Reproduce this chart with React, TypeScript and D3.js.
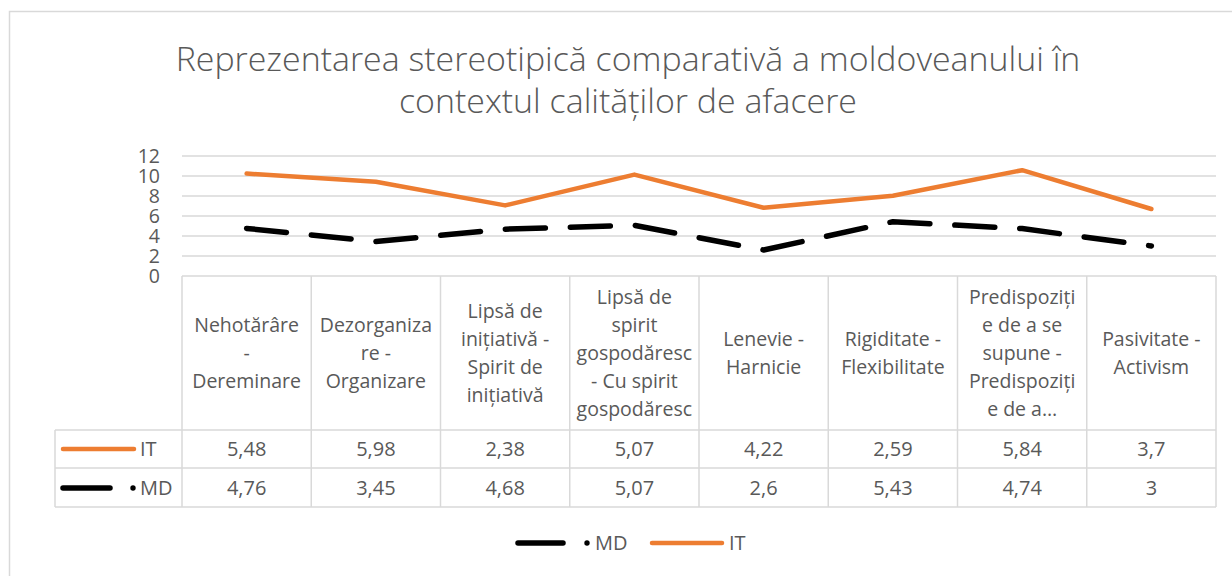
import React from 'react';
import * as d3 from 'd3';

// header labels, already broken into lines like the table in the picture
const categories = [
  ['Nehotărâre', '-', 'Dereminare'],
  ['Dezorganiza', 're -', 'Organizare'],
  ['Lipsă de', 'inițiativă -', 'Spirit de', 'inițiativă'],
  ['Lipsă de', 'spirit', 'gospodăresc', '- Cu spirit', 'gospodăresc'],
  ['Lenevie -', 'Harnicie'],
  ['Rigiditate -', 'Flexibilitate'],
  ['Predispoziți', 'e de a se', 'supune -', 'Predispoziți', 'e de a…'],
  ['Pasivitate -', 'Activism'],
];
const itValues = [5.48, 5.98, 2.38, 5.07, 4.22, 2.59, 5.84, 3.7];
const mdValues = [4.76, 3.45, 4.68, 5.07, 2.6, 5.43, 4.74, 3];
const yTicks = [0, 2, 4, 6, 8, 10, 12];
const titleLines = [
  'Reprezentarea stereotipică comparativă a moldoveanului în',
  'contextul calităților de afacere',
];

const W = 1232;
const H = 576;
const grey = '#595959';
const gridC = '#d9d9d9';
const orange = '#ED7D31';
const font = "'Open Sans', sans-serif";

const fmt = (v: number) => String(v).replace('.', ',');

export default function App() {
  const left = 182;
  const right = 1216;
  const x = d3.scaleBand<number>().domain(d3.range(categories.length)).range([left, right]);
  const y = d3.scaleLinear().domain([0, 12]).range([276, 156]);

  // stacked line: IT sits on top of MD
  const mdPts = mdValues.map((v, i) => [x(i)! + x.bandwidth() / 2, y(v)] as [number, number]);
  const itPts = itValues.map((v, i) => [x(i)! + x.bandwidth() / 2, y(v + mdValues[i])] as [number, number]);
  const line = d3.line();

  const tableTop = y(0);
  const rowIT = 430;
  const rowMD = 468;
  const tableBottom = 507;
  const keyLeft = 55;
  const cx = (i: number) => x(i)! + x.bandwidth() / 2;
  const headMid = (tableTop + rowIT) / 2;
  const lh = 28;

  return (
    <div style={{ position: 'absolute', left: 0, top: 0 }}>
      <svg width={W} height={H} style={{ display: 'block', background: '#fff' }} fontFamily={font}>
        <rect x={9.5} y={11.5} width={1300} height={700} fill="#fff" stroke={gridC} strokeWidth={1.5} />

        {titleLines.map((t, i) => (
          <text key={i} x={628} y={71 + i * 42} textAnchor="middle" fontSize={33.9} fontWeight={300} fill={grey}>
            {t}
          </text>
        ))}

        {/* gridlines */}
        {yTicks.filter(t => t > 0).map(t => (
          <line key={t} x1={left} x2={right} y1={y(t)} y2={y(t)} stroke={gridC} strokeWidth={1.5} />
        ))}
        {yTicks.map(t => (
          <text key={t} x={160} y={y(t)} dy="0.36em" textAnchor="end" fontSize={19.5} fill={grey}>
            {t}
          </text>
        ))}

        {/* table */}
        <g stroke={gridC} strokeWidth={1.5}>
          <line x1={left} x2={right} y1={tableTop} y2={tableTop} />
          {[rowIT, rowMD, tableBottom].map(r => (
            <line key={r} x1={keyLeft} x2={right} y1={r} y2={r} />
          ))}
          <line x1={keyLeft} x2={keyLeft} y1={rowIT} y2={tableBottom} />
          {d3.range(categories.length + 1).map(i => {
            const xx = i < categories.length ? x(i)! : right;
            return <line key={i} x1={xx} x2={xx} y1={tableTop} y2={tableBottom} />;
          })}
        </g>
        {categories.map((lines, i) => (
          <text key={i} textAnchor="middle" fontSize={19.5} fill={grey}>
            {lines.map((l, j) => (
              <tspan key={j} x={cx(i)} y={headMid + (j - (lines.length - 1) / 2) * lh} dy="0.36em">
                {l}
              </tspan>
            ))}
          </text>
        ))}
        {itValues.map((v, i) => (
          <text key={'it' + i} x={cx(i)} y={(rowIT + rowMD) / 2} dy="0.36em" textAnchor="middle" fontSize={20} fill={grey}>
            {fmt(v)}
          </text>
        ))}
        {mdValues.map((v, i) => (
          <text key={'md' + i} x={cx(i)} y={(rowMD + tableBottom) / 2} dy="0.36em" textAnchor="middle" fontSize={20} fill={grey}>
            {fmt(v)}
          </text>
        ))}

        {/* table legend keys */}
        <line x1={63} x2={134} y1={449} y2={449} stroke={orange} strokeWidth={4.5} strokeLinecap="round" />
        <text x={140} y={449} dy="0.36em" fontSize={20} fill={grey}>IT</text>
        <line x1={63} x2={110} y1={488} y2={488} stroke="#000" strokeWidth={5.5} strokeLinecap="round" />
        <circle cx={133} cy={488} r={2.7} fill="#000" />
        <text x={140} y={488} dy="0.36em" fontSize={20} fill={grey}>MD</text>

        {/* series */}
        <path d={line(itPts)!} fill="none" stroke={orange} strokeWidth={4.5} strokeLinejoin="round" strokeLinecap="round" />
        <path d={line(mdPts)!} fill="none" stroke="#000" strokeWidth={5.5} strokeDasharray="40 25" strokeLinejoin="round" strokeLinecap="round" />

        {/* bottom legend */}
        <line x1={518} x2={563} y1={543} y2={543} stroke="#000" strokeWidth={5.5} strokeLinecap="round" />
        <circle cx={587} cy={543} r={2.7} fill="#000" />
        <text x={595} y={543} dy="0.36em" fontSize={20} fill={grey}>MD</text>
        <line x1={652} x2={722} y1={543} y2={543} stroke={orange} strokeWidth={4.5} strokeLinecap="round" />
        <text x={729} y={543} dy="0.36em" fontSize={20} fill={grey}>IT</text>
      </svg>
    </div>
  );
}
